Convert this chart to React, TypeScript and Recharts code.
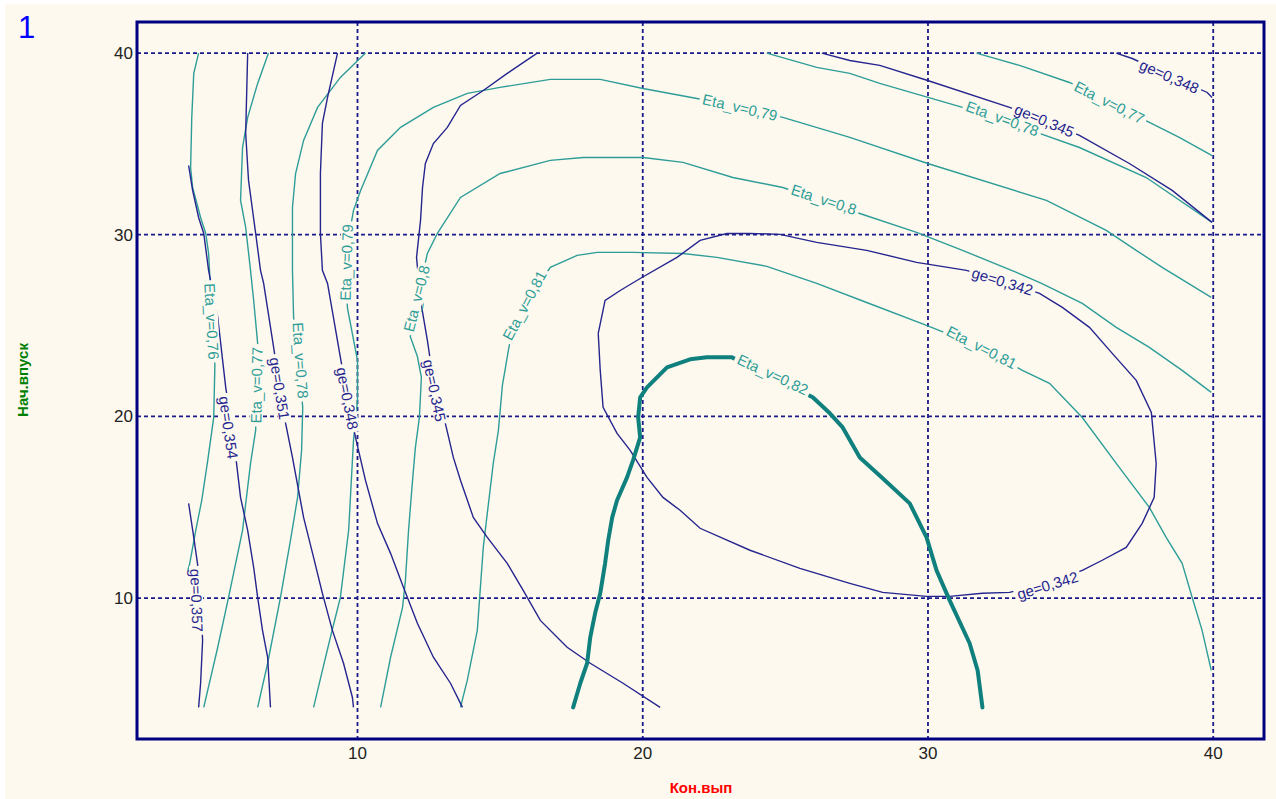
import React from 'react';
import { ComposedChart, Line, Scatter, XAxis, YAxis, CartesianGrid, ReferenceArea } from 'recharts';

type Pt = [number, number];

// Eta_v contours (x = Кон.вып, y = Нач.впуск)
const eta076: Pt[] = [[4.43, 40], [4.26, 38.88], [4.19, 36.46], [4.15, 33.7], [4.22, 32.6], [4.5, 30.95], [4.68, 30.07], [4.78, 28.97], [4.85, 26.93], [4.96, 24.73], [5.0, 22.81], [4.96, 19.94], [4.75, 17.58], [4.54, 15.38], [4.33, 13.73], [4.12, 11.91], [4.05, 11.5]];
const eta077a: Pt[] = [[6.88, 40], [6.5, 38.33], [6.15, 36.46], [5.97, 34.8], [5.9, 31.89], [6.08, 30.4], [6.25, 28.04], [6.36, 26.38], [6.5, 24.02], [6.46, 21.71], [6.43, 19.23], [6.25, 17.41], [5.97, 13.73], [5.48, 10.04], [5.1, 7.29], [4.61, 3.98]];
const eta077b: Pt[] = [[31.7, 40], [33.21, 39.32], [34.96, 38.38], [36.36, 37.28], [37.76, 36.18], [38.81, 35.36], [39.96, 34.36]];
const eta078a: Pt[] = [[10.28, 40], [9.4, 38.66], [8.6, 37.01], [8.11, 35.19], [7.83, 33.37], [7.72, 31.5], [7.72, 28.04], [7.76, 25.45], [7.93, 23.08], [8.08, 20.5], [8.04, 18.13], [7.9, 15.54], [7.65, 13.18], [7.3, 10.04], [6.85, 6.41], [6.5, 3.98]];
const eta078b: Pt[] = [[24.35, 40], [26.1, 39.21], [27.26, 38.88], [28.31, 38.33], [31.21, 37.01], [32.61, 36.29], [33.91, 35.58], [35.31, 34.8], [37.65, 33.15], [39.96, 30.68]];
const eta079: Pt[] = [[8.46, 3.98], [8.77, 6.02], [9.05, 7.84], [9.4, 10.04], [9.69, 13.73], [9.86, 18.68], [10.0, 20.88], [10.0, 23.08], [9.65, 25.94], [9.55, 28.59], [9.86, 31.34], [10.11, 32.44], [10.7, 34.64], [11.51, 35.91], [12.66, 37.01], [13.85, 37.78], [15.0, 38.11], [16.76, 38.55], [18.51, 38.55], [20.01, 38.05], [21.9, 37.5], [23.41, 37.01], [24.91, 36.46], [27.26, 35.36], [29.99, 33.92], [34.15, 31.89], [36.25, 30.24], [37.3, 29.14], [38.21, 28.2], [39.93, 26.55]];
const eta080: Pt[] = [[10.81, 3.98], [11.16, 6.74], [11.58, 9.49], [11.68, 10.97], [11.79, 13.73], [11.93, 16.48], [12.03, 18.29], [12.17, 19.94], [12.24, 22.15], [12.1, 23.3], [11.85, 24.4], [12.1, 26.5], [12.45, 28.97], [12.8, 30.07], [13.61, 32.05], [15.0, 33.37], [16.76, 34.09], [17.91, 34.25], [20.01, 34.25], [21.41, 33.98], [23.16, 33.15], [24.91, 32.6], [26.28, 31.89], [27.61, 31.17], [29.6, 30.13], [31.21, 29.14], [33.1, 27.93], [33.98, 27.32], [35.41, 26.22], [36.6, 24.9], [37.76, 23.8], [38.91, 22.53], [39.93, 21.32]];
const eta081: Pt[] = [[13.61, 3.98], [13.85, 5.48], [14.2, 8.22], [14.41, 12.79], [14.55, 14.66], [14.76, 17.41], [14.94, 19.23], [15.08, 21.71], [15.32, 23.91], [15.85, 26.11], [16.76, 28.2], [17.7, 28.86], [18.4, 29.03], [19.66, 29.03], [21.41, 28.97], [22.6, 28.75], [24.35, 28.26], [26.1, 27.32], [27.85, 26.27], [29.95, 25.01], [31.88, 23.8], [33.31, 22.53], [34.26, 21.82], [35.41, 19.94], [36.6, 17.41], [37.76, 14.99], [38.35, 13.34], [38.91, 11.91], [39.26, 10.04], [39.61, 8.22], [39.93, 6.02]];
const eta082: Pt[] = [[17.56, 3.98], [17.81, 5.31], [18.05, 6.41], [18.16, 7.84], [18.33, 9.16], [18.51, 10.26], [18.68, 11.91], [18.79, 13.18], [18.93, 14.44], [19.1, 15.38], [19.45, 16.64], [19.66, 17.58], [19.91, 18.84], [19.84, 19.94], [19.91, 21.05], [20.15, 21.6], [20.85, 22.7], [21.66, 23.14], [22.25, 23.25], [23.13, 23.25], [25.96, 21.05], [26.56, 20.17], [27.01, 19.39], [27.61, 17.74], [28.41, 16.59], [29.36, 15.21], [29.95, 13.34], [30.3, 11.52], [30.76, 9.87], [31.46, 7.51], [31.74, 6.02], [31.91, 3.98]];

// ge contours
const ge357: Pt[] = [[4.08, 15.21], [4.26, 13.34], [4.4, 11.8], [4.5, 9.87], [4.57, 7.67], [4.5, 5.31], [4.43, 3.98]];
const ge354: Pt[] = [[4.08, 33.81], [4.22, 32.44], [4.43, 30.95], [4.61, 30.07], [4.78, 28.04], [5.1, 25.45], [5.38, 21.6], [5.59, 19.5], [5.76, 17.41], [5.9, 15.54], [6.15, 13.73], [6.36, 11.69], [6.5, 10.04], [6.67, 8.22], [6.85, 6.74], [6.95, 3.98]];
const ge351: Pt[] = [[6.15, 40], [6.08, 35.58], [6.18, 32.99], [6.43, 30.07], [6.6, 28.04], [6.71, 27.32], [7.06, 23.8], [7.27, 21.6], [7.48, 19.61], [7.72, 17.74], [8.11, 14.44], [8.46, 12.24], [8.77, 10.26], [9.12, 8.22], [9.51, 6.41], [9.82, 4.54], [9.86, 3.98]];
const ge348a: Pt[] = [[9.3, 40], [8.95, 37.56], [8.77, 36.13], [8.7, 33.37], [8.7, 30.07], [8.77, 28.04], [8.95, 27.32], [9.4, 23.25], [9.65, 21.05], [9.93, 18.84], [10.28, 16.48], [10.7, 14.11], [11.16, 12.46], [11.61, 10.59], [12.1, 8.61], [12.66, 6.74], [13.26, 5.31], [13.68, 3.98]];
const ge348b: Pt[] = [[36.6, 40], [37.16, 39.7], [38.46, 38.77], [39.79, 37.83], [39.96, 37.56]];
const ge345a: Pt[] = [[16.3, 40], [15.25, 38.88], [14.41, 37.94], [13.61, 37.12], [13.15, 35.91], [12.66, 35.02], [12.38, 33.92], [12.28, 32.6], [12.21, 30.79], [12.07, 28.75], [12.21, 26.38], [12.45, 24.18], [12.7, 21.54], [13.08, 19.61], [13.36, 17.74], [13.61, 16.48], [14.06, 14.44], [14.55, 13.34], [15.25, 11.91], [15.81, 10.42], [16.41, 8.77], [17.35, 7.29], [18.16, 6.41], [19.31, 5.31], [20.61, 3.98]];
const ge345b: Pt[] = [[26.28, 40], [27.26, 39.59], [28.31, 39.32], [29.99, 38.49], [32.86, 37.01], [34.08, 36.29], [35.31, 35.47], [37.06, 33.92], [38.56, 32.44], [39.96, 30.68]];
const ge342: Pt[] = [[18.44, 24.57], [18.68, 26.38], [19.21, 26.93], [19.91, 27.59], [21.2, 28.75], [22.01, 29.69], [22.95, 30.07], [23.76, 30.07], [24.81, 30.02], [26.1, 29.58], [27.85, 29.14], [29.6, 28.48], [31.35, 28.04], [32.61, 27.43], [33.91, 26.77], [34.71, 26.0], [35.66, 24.9], [36.46, 23.47], [37.3, 21.98], [37.83, 20.22], [38.0, 17.41], [37.93, 15.54], [37.51, 14.11], [36.95, 12.79], [36.11, 12.08], [35.41, 11.52], [34.15, 10.81], [32.86, 10.31], [31.91, 10.26], [30.76, 10.09], [29.95, 10.09], [28.41, 10.31], [27.26, 10.81], [25.51, 11.63], [23.76, 12.63], [22.01, 13.84], [21.31, 14.83], [20.71, 15.54], [20.15, 16.64], [19.56, 18.13], [19.1, 19.06], [18.61, 20.5], [18.51, 22.53], [18.44, 24.57]];

// contour labels (anchor in data units)
const contourLabels = [
  { x: 4.89, y: 25.23, text: 'Eta_v=0,76' },
  { x: 5.48, y: 19.39, text: 'ge=0,354' },
  { x: 4.36, y: 9.87, text: 'ge=0,357' },
  { x: 6.46, y: 21.71, text: 'Eta_v=0,77' },
  { x: 7.27, y: 21.54, text: 'ge=0,351' },
  { x: 8.0, y: 23.08, text: 'Eta_v=0,78' },
  { x: 9.65, y: 20.99, text: 'ge=0,348' },
  { x: 9.61, y: 28.48, text: 'Eta_v=0,79' },
  { x: 12.07, y: 26.49, text: 'Eta_v=0,8' },
  { x: 12.7, y: 21.43, text: 'ge=0,345' },
  { x: 15.85, y: 26.11, text: 'Eta_v=0,81' },
  { x: 23.41, y: 37.01, text: 'Eta_v=0,79' },
  { x: 26.35, y: 31.94, text: 'Eta_v=0,8' },
  { x: 32.61, y: 27.43, text: 'ge=0,342' },
  { x: 31.88, y: 23.8, text: 'Eta_v=0,81' },
  { x: 24.56, y: 22.31, text: 'Eta_v=0,82' },
  { x: 34.19, y: 10.7, text: 'ge=0,342' },
  { x: 32.61, y: 36.4, text: 'Eta_v=0,78' },
  { x: 34.08, y: 36.29, text: 'ge=0,345' },
  { x: 36.36, y: 37.28, text: 'Eta_v=0,77' },
  { x: 38.46, y: 38.71, text: 'ge=0,348' },
];
const labelAngles = [87, 82, 88, -89, 81, 86, 79, -88, -76, 78, -62, 13, 18, 17, 27, 25, -17, 20, 23, 27, 24];

const TICKS = [10, 20, 30, 40];
const X_DOMAIN: [number, number] = [2.27, 41.78];
const Y_DOMAIN: [number, number] = [2.24, 41.71];

const BG = '#fdf9ee';
const TEAL = '#2e9d98';
const TEAL_DARK = '#0f807d';
const NAVY = '#25258f';
const GRID = '#1a1a8a';
const FRAME = '#000080';
const FONT = '"Liberation Sans", Arial, sans-serif';
const LABEL_SIZE = 15;

const etaThin = [eta076, eta077a, eta077b, eta078a, eta078b, eta079, eta080, eta081];
const geLines = [ge357, ge354, ge351, ge348a, ge348b, ge345a, ge345b, ge342];

const rows = (pts: Pt[]) => pts.map(([x, y]) => ({ x, y }));
const labelRows = contourLabels.map((l, i) => ({ ...l, angle: labelAngles[i] }));

const CHAR_W: Record<string, number> = {
  E: 0.667, t: 0.278, a: 0.556, _: 0.556, v: 0.5, '=': 0.584, ',': 0.278, g: 0.556, e: 0.556,
};
const textWidth = (s: string, size: number) =>
  s.split('').reduce((w, c) => w + (CHAR_W[c] ?? 0.556), 0) * size;

const renderLabel = (props: any) => {
  const { cx, cy, payload } = props;
  if (cx == null || cy == null || !payload) return <g />;
  const w = textWidth(payload.text, LABEL_SIZE) + 6;
  const h = 13;
  const color = payload.text.startsWith('ge') ? NAVY : TEAL;
  return (
    <g transform={`translate(${cx},${cy}) rotate(${payload.angle})`}>
      <rect x={-w / 2} y={-h / 2} width={w} height={h} fill={BG} />
      <text
        x={0}
        y={0}
        dy="0.36em"
        textAnchor="middle"
        fontSize={LABEL_SIZE}
        fontFamily={FONT}
        fill={color}
      >
        {payload.text}
      </text>
    </g>
  );
};

export default function App() {
  return (
    <div
      style={{
        position: 'absolute',
        left: 0,
        top: 0,
        width: 1276,
        height: 799,
        background: '#ffffff',
        overflow: 'hidden',
        fontFamily: FONT,
      }}
    >
      <div style={{ position: 'absolute', left: 5, top: 4, right: 0, bottom: 0, background: BG }} />
      <div style={{ position: 'absolute', left: 0, top: 0 }}>
        <ComposedChart width={1276} height={799} margin={{ top: 22, right: 12, bottom: 0, left: 0 }}>
          <CartesianGrid stroke={GRID} strokeDasharray="4 3" strokeWidth={1.8} />
          <XAxis
            type="number"
            dataKey="x"
            domain={X_DOMAIN}
            ticks={TICKS}
            allowDataOverflow
            height={60}
            axisLine={false}
            tickLine={false}
            tickSize={8}
            tickMargin={0}
            tick={{ fill: '#222', fontSize: 17, fontFamily: FONT }}
          />
          <YAxis
            type="number"
            dataKey="y"
            domain={Y_DOMAIN}
            ticks={TICKS}
            allowDataOverflow
            width={137}
            axisLine={false}
            tickLine={false}
            tickSize={4}
            tickMargin={0}
            tick={{ fill: '#222', fontSize: 17, fontFamily: FONT }}
          />
          <ReferenceArea
            x1={X_DOMAIN[0]}
            x2={X_DOMAIN[1]}
            y1={Y_DOMAIN[0]}
            y2={Y_DOMAIN[1]}
            fill="none"
            stroke={FRAME}
            strokeWidth={3}
            ifOverflow="visible"
          />
          {etaThin.map((d, i) => (
            <Line
              key={'eta' + i}
              data={rows(d)}
              dataKey="y"
              type="linear"
              stroke={TEAL}
              strokeWidth={1.4}
              dot={false}
              activeDot={false}
              isAnimationActive={false}
            />
          ))}
          {geLines.map((d, i) => (
            <Line
              key={'ge' + i}
              data={rows(d)}
              dataKey="y"
              type="linear"
              stroke={NAVY}
              strokeWidth={1.4}
              dot={false}
              activeDot={false}
              isAnimationActive={false}
            />
          ))}
          <Line
            data={rows(eta082)}
            dataKey="y"
            type="linear"
            stroke={TEAL_DARK}
            strokeWidth={4}
            strokeLinejoin="round"
            strokeLinecap="round"
            dot={false}
            activeDot={false}
            isAnimationActive={false}
          />
          <Scatter data={labelRows} shape={renderLabel} isAnimationActive={false} />
        </ComposedChart>
      </div>
      <svg
        width={1276}
        height={799}
        style={{ position: 'absolute', left: 0, top: 0, pointerEvents: 'none' }}
      >
        <text x={18} y={38} fontSize={31} fontFamily={FONT} fill="#0000ff">1</text>
        <text x={701} y={793} textAnchor="middle" fontSize={15} fontWeight="bold" fontFamily={FONT} fill="#ff0000">
          Кон.вып
        </text>
        <text
          transform="translate(28,380) rotate(-90)"
          textAnchor="middle"
          fontSize={15}
          fontWeight="bold"
          fontFamily={FONT}
          fill="#008000"
        >
          Нач.впуск
        </text>
      </svg>
    </div>
  );
}
